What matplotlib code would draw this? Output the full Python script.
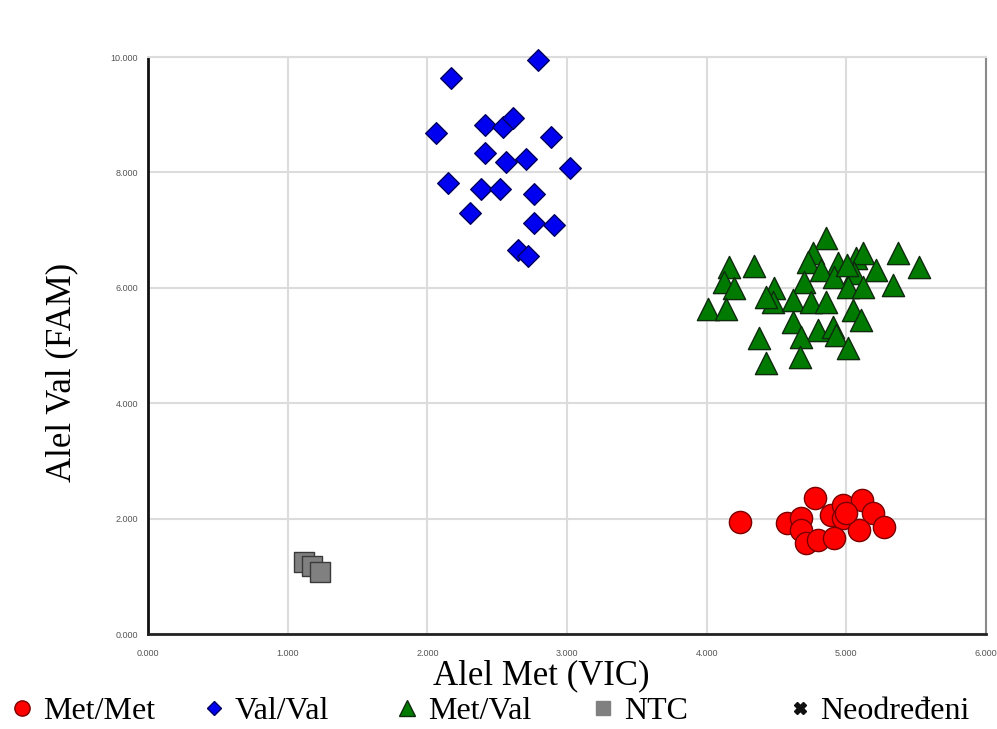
import matplotlib.pyplot as plt
from matplotlib.lines import Line2D

plt.rcParams["font.family"] = ["Liberation Serif", "DejaVu Serif"]

# genotype clusters
met_met_x = [4237, 4573, 4774, 4674, 4674, 4710, 4796, 4889, 4975, 4975, 4910, 5111, 5190, 5090, 5269, 4996]
met_met_y = [1941, 1924, 2357, 2010, 1802, 1577, 1629, 2062, 2236, 2010, 1664, 2322, 2097, 1802, 1854, 2097]

val_val_x = [2796, 2172, 2065, 2416, 2545, 2616, 2889, 2416, 2566, 2710,
             3018, 2151, 2387, 2523, 2767, 2308, 2767, 2910, 2652, 2724]
val_val_y = [9948, 9636, 8683, 8821, 8787, 8943, 8614, 8336, 8180, 8232,
             8076, 7816, 7712, 7712, 7626, 7296, 7123, 7088, 6655, 6551]

met_val_x = [4853, 5369, 5520, 4158, 4337, 4760, 4724, 5068, 5118, 4939,
             5211, 4817, 4910, 5054, 4122, 4194, 4695, 5011, 5118, 5333,
             4480, 4473, 4616, 4746, 4853, 4007, 4136, 5047, 5104, 4616,
             4796, 4903, 4925, 4674, 4373, 5011, 4423, 4667, 4423, 5004]
met_val_y = [6863, 6603, 6360, 6360, 6378, 6603, 6447, 6516, 6603, 6430,
             6308, 6308, 6187, 6256, 6100, 5997, 6100, 6014, 6014, 6049,
             5997, 5754, 5789, 5754, 5754, 5633, 5633, 5615, 5442, 5407,
             5269, 5321, 5182, 5147, 5130, 4957, 4697, 4801, 5840, 6395]

ntc_x = [1118, 1176, 1233]
ntc_y = [1248, 1179, 1075]

x_ticks = [0, 1000, 2000, 3000, 4000, 5000, 6000]
x_tick_labels = ["0.000", "1.000", "2.000", "3.000", "4.000", "5.000", "6.000"]
y_ticks = [0, 2000, 4000, 6000, 8000, 10000]
y_tick_labels = ["0.000", "2.000", "4.000", "6.000", "8.000", "10.000"]

fig = plt.figure(figsize=(9.97, 7.29), dpi=100)
ax = fig.add_axes([0.1484, 0.1303, 0.8406, 0.7915])

ax.scatter(met_met_x, met_met_y, s=16**2, marker="o", color="#ff0000",
           edgecolor="#7a0000", linewidth=1.0, zorder=3, clip_on=False)
ax.scatter(val_val_x, val_val_y, s=11**2, marker="D", color="#0000f0",
           edgecolor="#000060", linewidth=1.0, zorder=3, clip_on=False)
ax.scatter(met_val_x, met_val_y, s=16**2, marker="^", color="#007a00",
           edgecolor="#0f2a0f", linewidth=1.0, zorder=3, clip_on=False)
ax.scatter(ntc_x, ntc_y, s=14**2, marker="s", color="#808080",
           edgecolor="#3a3a3a", linewidth=1.0, zorder=3, clip_on=False)

ax.set_xlim(0, 6000)
ax.set_ylim(0, 10000)
ax.set_xticks(x_ticks)
ax.set_xticklabels(x_tick_labels)
ax.set_yticks(y_ticks)
ax.set_yticklabels(y_tick_labels)
ax.tick_params(length=0, labelsize=6.5, labelcolor="#555555")
ax.tick_params(axis="x", pad=11)
ax.tick_params(axis="y", pad=7)
for lab in ax.get_xticklabels() + ax.get_yticklabels():
    lab.set_family("Liberation Sans")

ax.grid(True, color="#dcdcdc", linewidth=1.5, zorder=0)
ax.set_axisbelow(True)
ax.spines["left"].set_color("#111111")
ax.spines["left"].set_linewidth(2.0)
ax.spines["bottom"].set_color("#222222")
ax.spines["bottom"].set_linewidth(2.0)
ax.spines["right"].set_color("#8a8a8a")
ax.spines["right"].set_linewidth(1.5)
ax.spines["top"].set_color("#dcdcdc")
ax.spines["top"].set_linewidth(1.5)

ax.set_xlabel("Alel Met (VIC)", fontsize=25)
ax.set_ylabel("Alel Val (FAM)", fontsize=25)
ax.xaxis.set_label_coords(0.469, -0.043)
ax.yaxis.set_label_coords(-0.083, 0.454)

# legend row along the bottom
legend_labels = ["Met/Met", "Val/Val", "Met/Val", "NTC", "Neodređeni"]
legend_x = [0.011, 0.203, 0.397, 0.594, 0.791]
handles = [
    Line2D([], [], marker="o", ls="", ms=11, color="#ff0000", mec="#7a0000"),
    Line2D([], [], marker="D", ls="", ms=7, color="#0000f0", mec="#000060"),
    Line2D([], [], marker="^", ls="", ms=11, color="#007a00", mec="#0f2a0f"),
    Line2D([], [], marker="s", ls="", ms=10, color="#808080", mec="#808080"),
    Line2D([], [], marker="X", ls="", ms=9, color="#111111", mec="#111111"),
]
for h, lab, lx in zip(handles, legend_labels, legend_x):
    fig.legend(handles=[h], labels=[lab], loc="center left",
               bbox_to_anchor=(lx, 0.024), frameon=False, fontsize=23,
               handlelength=0.7, handletextpad=0.3, borderpad=0,
               borderaxespad=0)

fig.savefig("out.png", dpi=100)
